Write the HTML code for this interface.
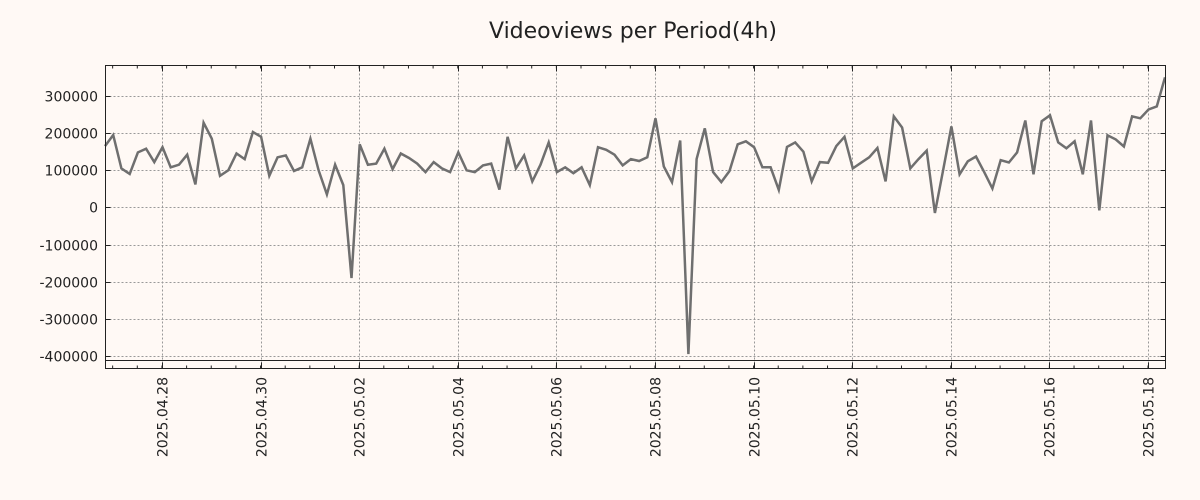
<!DOCTYPE html>
<html><head><meta charset="utf-8"><style>
body{margin:0;background:#fff9f5;}
svg{display:block;font-family:"DejaVu Sans","Liberation Sans",sans-serif;}
</style></head><body>
<svg id="chart" width="1200" height="500" xmlns="http://www.w3.org/2000/svg">
<rect width="1200" height="500" fill="#fff9f5"/>
<text x="633" y="38" font-size="22" text-anchor="middle" fill="#222">Videoviews per Period(4h)</text>
<g id="grid"></g><g id="axes"></g><g id="series"></g>
<rect x="105.5" y="65.5" width="1060" height="303" fill="none" stroke="#222" stroke-width="1"/>
</svg>
<script>
const values = [165,195,105,90,148,158,122,162,108,115,142,62,228,185,85,100,145,130,203,190,85,135,140,98,108,185,100,35,115,60,-190,170,115,118,158,103,145,133,118,95,122,105,95,148,100,95,113,118,48,190,105,140,70,115,175,95,108,92,108,60,162,155,142,113,130,125,135,240,110,68,180,-395,130,213,95,68,98,170,178,162,108,108,47,163,175,150,70,122,120,165,190,105,120,135,160,70,245,215,105,130,153,-15,100,218,89,124,137,95,51,127,121,148,234,89,232,248,175,159,178,89,234,-8,194,183,164,245,240,264,272,350].map(v=>v*1000);
const yTicks = [300000,200000,100000,0,-100000,-200000,-300000,-400000];
const dateLabels = ["2025.04.28","2025.04.30","2025.05.02","2025.05.04","2025.05.06","2025.05.08","2025.05.10","2025.05.12","2025.05.14","2025.05.16","2025.05.18"];
const firstDateIndex = 6.93; // index of 2025.04.28 00:00 (periods of 4h)
const NS="http://www.w3.org/2000/svg";
const L=105.5,R=1165.5,T=65.5,B=368.5;
const step=(1165-105)/(values.length-1);
function x(i){return 105+i*step;}
function y(v){return 207.4-v/100000*37.14;}
function mk(tag,attrs,parent){const e=document.createElementNS(NS,tag);for(const k in attrs)e.setAttribute(k,attrs[k]);document.getElementById(parent).appendChild(e);return e;}
// y grid + ticks
yTicks.forEach(v=>{
  const yy=Math.round(y(v))+0.5;
  const g=mk('line',{x1:L,x2:R,y1:yy,y2:yy,stroke:'#999','stroke-dasharray':'2,2','stroke-width':1},'grid');
  
  
  mk('line',{x1:L,x2:L+5,y1:yy,y2:yy,stroke:'#222'},'axes');
  mk('line',{x1:R-5,x2:R,y1:yy,y2:yy,stroke:'#222'},'axes');
  const t=mk('text',{x:98,y:yy+5,'font-size':14,'text-anchor':'end',fill:'#222'},'axes');
  t.textContent=String(v);
  
  
});
// baseline line
const bl=mk('line',{x1:L,x2:R,y1:360.5,y2:360.5,stroke:'#222','stroke-width':1},'axes');


// minor ticks every 12h
for(let k=-4;k<200;k++){
  const xx=x(firstDateIndex+k*3);
  if(xx<L||xx>R)continue;
  mk('line',{x1:xx,x2:xx,y1:T,y2:T+3,stroke:'#222'},'axes');
  mk('line',{x1:xx,x2:xx,y1:B-3,y2:B,stroke:'#222'},'axes');
}
dateLabels.forEach((d,j)=>{
  const xx=Math.round(x(firstDateIndex+j*12))+0.5;
  const g=mk('line',{x1:xx,x2:xx,y1:T,y2:B,stroke:'#999','stroke-dasharray':'2,2'},'grid');
  
  
  mk('line',{x1:xx,x2:xx,y1:T,y2:T+6,stroke:'#222'},'axes');
  mk('line',{x1:xx,x2:xx,y1:B-6,y2:B,stroke:'#222'},'axes');
  const t=mk('text',{x:0,y:0,'font-size':14,'text-anchor':'end',fill:'#222',transform:`translate(${xx+5},377) rotate(-90)`},'axes');
  t.textContent=d;
  
  
});
const p=mk('polyline',{points:values.map((v,i)=>x(i).toFixed(1)+','+y(v).toFixed(1)).join(' '),fill:'none',stroke:'#6f6f6f','stroke-width':2.5,'stroke-linejoin':'miter'},'series');


</script>
</body></html>
